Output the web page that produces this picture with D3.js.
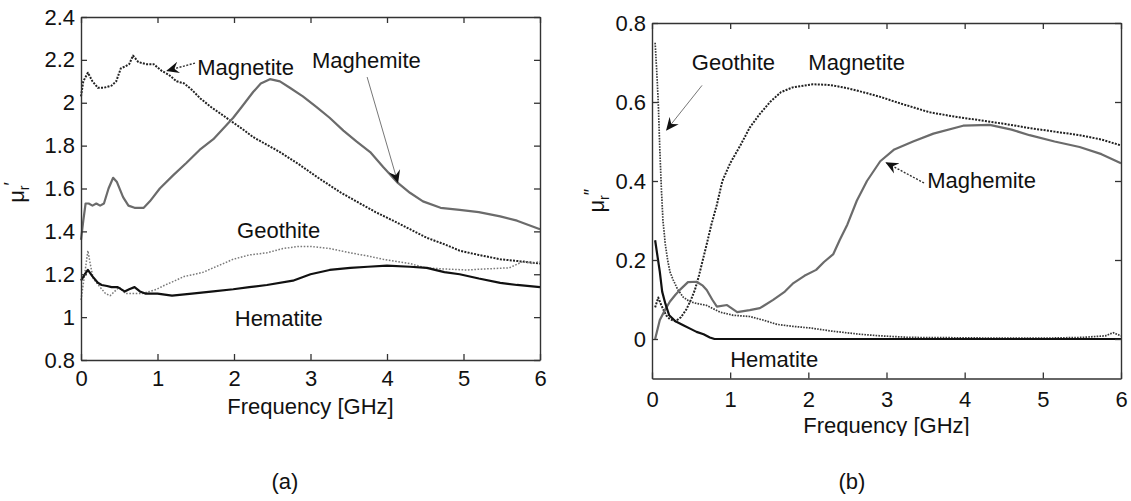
<!DOCTYPE html>
<html>
<head>
<meta charset="utf-8">
<script src="https://cdn.jsdelivr.net/npm/d3@7"></script>
<style>
  body { margin: 0; background: #fff; }
  svg { display: block; font-family: "Liberation Sans", Arial, sans-serif; }
</style>
</head>
<body>
<svg id="chart" width="1131" height="501"></svg>
<script>
// ---- data: [frequency GHz, value] ----
const xTicks = [0, 1, 2, 3, 4, 5, 6];
const yTicksA = [0.8, 1, 1.2, 1.4, 1.6, 1.8, 2, 2.2, 2.4];
const yTicksB = [0, 0.2, 0.4, 0.6, 0.8];

const magnetiteA = [[0,2.03],[0.03,2.10],[0.09,2.14],[0.15,2.10],[0.22,2.07],[0.3,2.07],[0.4,2.08],[0.46,2.10],[0.52,2.16],[0.58,2.17],[0.63,2.18],[0.68,2.22],[0.75,2.19],[0.85,2.18],[0.95,2.18],[1.05,2.15],[1.15,2.13],[1.25,2.10],[1.35,2.09],[1.45,2.06],[1.56,2.02],[1.7,1.98],[1.9,1.93],[2.1,1.88],[2.25,1.84],[2.45,1.80],[2.6,1.77],[2.86,1.71],[3.1,1.65],[3.4,1.58],[3.65,1.53],[3.85,1.49],[4.08,1.45],[4.3,1.41],[4.52,1.37],[4.75,1.34],[4.95,1.31],[5.2,1.29],[5.48,1.27],[5.75,1.26],[6.0,1.25]];
const maghemiteA = [[0,1.36],[0.03,1.45],[0.06,1.53],[0.1,1.53],[0.15,1.52],[0.2,1.53],[0.25,1.52],[0.3,1.53],[0.36,1.60],[0.42,1.65],[0.47,1.63],[0.55,1.56],[0.62,1.52],[0.7,1.51],[0.82,1.51],[0.9,1.54],[1.03,1.60],[1.2,1.66],[1.38,1.72],[1.55,1.78],[1.73,1.83],[1.99,1.93],[2.1,1.98],[2.25,2.05],[2.35,2.09],[2.47,2.11],[2.6,2.10],[2.73,2.07],[2.9,2.03],[3.08,1.98],[3.25,1.93],[3.43,1.87],[3.6,1.82],[3.78,1.77],[3.95,1.70],[4.13,1.63],[4.3,1.58],[4.47,1.54],[4.7,1.51],[4.95,1.50],[5.2,1.49],[5.48,1.47],[5.7,1.45],[5.85,1.43],[6.0,1.41]];
const geothiteA = [[0,1.08],[0.04,1.18],[0.09,1.31],[0.12,1.25],[0.16,1.18],[0.25,1.14],[0.32,1.11],[0.38,1.10],[0.44,1.12],[0.5,1.14],[0.58,1.11],[0.68,1.11],[0.8,1.11],[0.9,1.12],[0.99,1.13],[1.1,1.15],[1.23,1.17],[1.35,1.19],[1.49,1.20],[1.6,1.21],[1.73,1.23],[1.99,1.27],[2.2,1.29],[2.43,1.30],[2.64,1.32],[2.85,1.33],[3.0,1.33],[3.25,1.32],[3.52,1.30],[3.75,1.285],[3.95,1.27],[4.3,1.25],[4.5,1.23],[4.73,1.225],[5.04,1.22],[5.3,1.225],[5.6,1.23],[5.78,1.26],[5.9,1.25],[6.0,1.26]];
const hematiteA = [[0,1.17],[0.05,1.20],[0.09,1.22],[0.15,1.19],[0.22,1.16],[0.27,1.15],[0.34,1.145],[0.4,1.14],[0.48,1.14],[0.57,1.12],[0.63,1.13],[0.7,1.14],[0.77,1.12],[0.84,1.11],[1.0,1.11],[1.19,1.10],[1.45,1.11],[1.73,1.12],[1.99,1.13],[2.2,1.14],[2.43,1.15],[2.77,1.17],[3.0,1.20],[3.25,1.22],[3.52,1.23],[3.75,1.235],[4.0,1.24],[4.3,1.235],[4.52,1.23],[4.75,1.21],[4.95,1.20],[5.2,1.18],[5.48,1.16],[5.7,1.15],[6.0,1.14]];

const magnetiteB = [[0.04,0.08],[0.08,0.105],[0.12,0.085],[0.18,0.06],[0.23,0.05],[0.3,0.045],[0.37,0.055],[0.44,0.075],[0.5,0.10],[0.55,0.125],[0.6,0.16],[0.65,0.20],[0.7,0.24],[0.76,0.29],[0.83,0.34],[0.9,0.40],[1.0,0.445],[1.13,0.49],[1.25,0.535],[1.38,0.57],[1.51,0.60],[1.65,0.625],[1.8,0.637],[2.06,0.645],[2.28,0.643],[2.5,0.635],[2.7,0.625],[2.92,0.613],[3.2,0.595],[3.55,0.574],[3.9,0.562],[4.19,0.554],[4.5,0.545],[4.83,0.534],[5.15,0.525],[5.47,0.516],[5.75,0.505],[6.0,0.49]];
const maghemiteB = [[0.04,0.0],[0.1,0.048],[0.17,0.075],[0.23,0.095],[0.3,0.112],[0.36,0.125],[0.46,0.144],[0.57,0.145],[0.65,0.135],[0.7,0.124],[0.77,0.10],[0.83,0.082],[0.96,0.086],[1.09,0.068],[1.25,0.073],[1.38,0.078],[1.55,0.099],[1.7,0.12],[1.8,0.14],[1.95,0.16],[2.1,0.175],[2.2,0.195],[2.32,0.215],[2.4,0.25],[2.5,0.29],[2.62,0.35],[2.75,0.40],[2.92,0.45],[3.1,0.48],[3.34,0.50],[3.6,0.52],[3.98,0.54],[4.32,0.542],[4.6,0.53],[4.83,0.516],[5.15,0.50],[5.47,0.486],[5.75,0.468],[6.0,0.445]];
const geothiteB = [[0.04,0.75],[0.06,0.68],[0.08,0.60],[0.1,0.48],[0.12,0.38],[0.14,0.30],[0.17,0.24],[0.2,0.20],[0.23,0.17],[0.27,0.15],[0.33,0.125],[0.4,0.106],[0.48,0.095],[0.57,0.09],[0.7,0.085],[0.8,0.075],[0.87,0.068],[1.04,0.06],[1.25,0.057],[1.42,0.048],[1.6,0.037],[1.8,0.032],[2.02,0.028],[2.3,0.02],[2.66,0.012],[2.92,0.008],[3.3,0.004],[4.0,0.003],[4.5,0.002],[5.0,0.002],[5.5,0.004],[5.8,0.008],[5.9,0.016],[6.0,0.008]];
const hematiteB = [[0.04,0.25],[0.07,0.21],[0.1,0.17],[0.13,0.12],[0.17,0.09],[0.22,0.06],[0.3,0.045],[0.4,0.035],[0.5,0.025],[0.57,0.018],[0.66,0.012],[0.74,0.004],[0.8,0.0],[6.0,0.0]];

// labels placed in data units: [text, f, value]
const labelsA = [["Magnetite", 1.52, 2.13], ["Maghemite", 3.02, 2.16], ["Geothite", 2.04, 1.37], ["Hematite", 2.01, 0.96]];
const labelsB = [["Geothite", 0.51, 0.68], ["Magnetite", 2.0, 0.68], ["Maghemite", 3.52, 0.382], ["Hematite", 1.0, -0.07]];
// arrows: [from f, from v, to f, to v, style]
const arrowsA = [[1.49, 2.185, 1.13, 2.15, "dot"], [3.74, 2.12, 4.14, 1.63, "thin"]];
const arrowsB = [[0.64, 0.642, 0.19, 0.53, "thin"], [3.48, 0.395, 3.0, 0.446, "dot"]];

const svg = d3.select("#chart");
const defs = svg.append("defs");
defs.append("marker")
  .attr("id", "head")
  .attr("viewBox", "0 0 10 10")
  .attr("refX", 9).attr("refY", 5)
  .attr("markerWidth", 13).attr("markerHeight", 13)
  .attr("markerUnits", "userSpaceOnUse")
  .attr("orient", "auto")
  .append("path")
  .attr("d", "M0,0.5 L10,5 L0,9.5 L3.5,5 Z")
  .attr("fill", "#111");

const styles = {
  magnetite: { stroke: "#222", width: 2, dash: "2,1.3" },
  maghemite: { stroke: "#6b6b6b", width: 2.2, dash: null },
  hematite: { stroke: "#111", width: 2.2, dash: null }
};

function drawPanel(cfg) {
  const x = d3.scaleLinear().domain([0, 6]).range([cfg.left, cfg.right]);
  const y = d3.scaleLinear().domain(cfg.yDomain).range([cfg.bottom, cfg.top]);
  const g = svg.append("g");

  const line = d3.line().x(d => x(d[0])).y(d => y(d[1]));
  cfg.series.forEach(s => {
    g.append("path")
      .datum(s.data)
      .attr("d", line)
      .attr("fill", "none")
      .attr("stroke", s.style.stroke)
      .attr("stroke-width", s.style.width)
      .attr("stroke-dasharray", s.style.dash)
      .attr("stroke-linejoin", "round");
  });

  const fmt = d3.format("~g");
  const styleAxis = sel => {
    sel.select(".domain").attr("stroke", "#333").attr("stroke-width", 1.4);
    sel.selectAll(".tick line").attr("stroke", "#333").attr("stroke-width", 1.3);
    sel.selectAll("text").attr("font-size", 22).attr("fill", "#111").attr("font-family", null);
  };

  g.append("g")
    .attr("transform", `translate(0,${cfg.bottom})`)
    .call(d3.axisBottom(x).tickValues(xTicks).tickFormat(fmt).tickSizeInner(-6).tickSizeOuter(0))
    .call(styleAxis)
    .call(a => a.selectAll("text").attr("y", cfg.xTickBase).attr("dy", 0));
  g.append("g")
    .attr("transform", `translate(0,${cfg.top})`)
    .call(d3.axisTop(x).tickValues(xTicks).tickFormat("").tickSizeInner(-6).tickSizeOuter(0))
    .call(styleAxis);
  g.append("g")
    .attr("transform", `translate(${cfg.left},0)`)
    .call(d3.axisLeft(y).tickValues(cfg.yTicks).tickFormat(fmt).tickSizeInner(-6).tickSizeOuter(0).tickPadding(6))
    .call(styleAxis);
  g.append("g")
    .attr("transform", `translate(${cfg.right},0)`)
    .call(d3.axisRight(y).tickValues(cfg.yTicks).tickFormat("").tickSizeInner(-6).tickSizeOuter(0))
    .call(styleAxis);

  cfg.arrows.forEach(a => {
    g.append("line")
      .attr("x1", x(a[0])).attr("y1", y(a[1]))
      .attr("x2", x(a[2])).attr("y2", y(a[3]))
      .attr("stroke", a[4] === "dot" ? "#333" : "#777")
      .attr("stroke-width", a[4] === "dot" ? 1.4 : 1)
      .attr("stroke-dasharray", a[4] === "dot" ? "2,1.5" : null)
      .attr("marker-end", "url(#head)");
  });

  g.selectAll(".lbl")
    .data(cfg.labels)
    .join("text")
    .attr("class", "lbl")
    .attr("x", d => x(d[1]))
    .attr("y", d => y(d[2]))
    .attr("font-size", 22)
    .attr("fill", "#111")
    .text(d => d[0]);

  // x title
  const xt = g.append("text")
    .attr("x", (cfg.left + cfg.right) / 2)
    .attr("y", cfg.xTitleY)
    .attr("text-anchor", "middle")
    .attr("font-size", 22)
    .attr("fill", "#111")
    .text("Frequency [GHz]");
  if (cfg.clipTitle) {
    defs.append("clipPath").attr("id", cfg.clipTitle)
      .append("rect").attr("x", 0).attr("y", 0).attr("width", 1131).attr("height", cfg.clipY);
    xt.attr("clip-path", `url(#${cfg.clipTitle})`);
  }

  // y title
  const yt = g.append("text")
    .attr("transform", `translate(${cfg.yTitleX},${(cfg.top + cfg.bottom) / 2 + cfg.yTitleShift}) rotate(-90)`)
    .attr("text-anchor", "middle")
    .attr("font-size", 22)
    .attr("fill", "#111");
  yt.append("tspan").text("\u03bc");
  yt.append("tspan").attr("font-size", 14).attr("dy", 5).text("r");
  yt.append("tspan").attr("font-size", 18).attr("dy", -12).text(cfg.prime);

  // panel caption
  g.append("text")
    .attr("x", cfg.capX)
    .attr("y", 489)
    .attr("text-anchor", "middle")
    .attr("font-size", 22)
    .attr("fill", "#111")
    .text(cfg.caption);
}

drawPanel({
  left: 81, right: 540, top: 17, bottom: 360,
  yDomain: [0.8, 2.4], yTicks: yTicksA,
  xTickBase: 26, xTitleY: 414, yTitleX: 24, yTitleShift: 4,
  prime: "\u2032", caption: "(a)", capX: 285,
  series: [
    { data: magnetiteA, style: styles.magnetite },
    { data: geothiteA, style: { stroke: "#7a7a7a", width: 1.5, dash: "1.6,1.6" } },
    { data: maghemiteA, style: styles.maghemite },
    { data: hematiteA, style: styles.hematite }
  ],
  labels: labelsA, arrows: arrowsA
});

drawPanel({
  left: 652, right: 1121, top: 23, bottom: 378.5,
  yDomain: [-0.1, 0.8], yTicks: yTicksB,
  xTickBase: 28, xTitleY: 433, yTitleX: 604, yTitleShift: 0,
  prime: "\u2033", caption: "(b)", capX: 852,
  clipTitle: "clipB", clipY: 436,
  series: [
    { data: magnetiteB, style: styles.magnetite },
    { data: geothiteB, style: { stroke: "#3a3a3a", width: 1.7, dash: "1.6,1.2" } },
    { data: maghemiteB, style: styles.maghemite },
    { data: hematiteB, style: styles.hematite }
  ],
  labels: labelsB, arrows: arrowsB
});
</script>
</body>
</html>
